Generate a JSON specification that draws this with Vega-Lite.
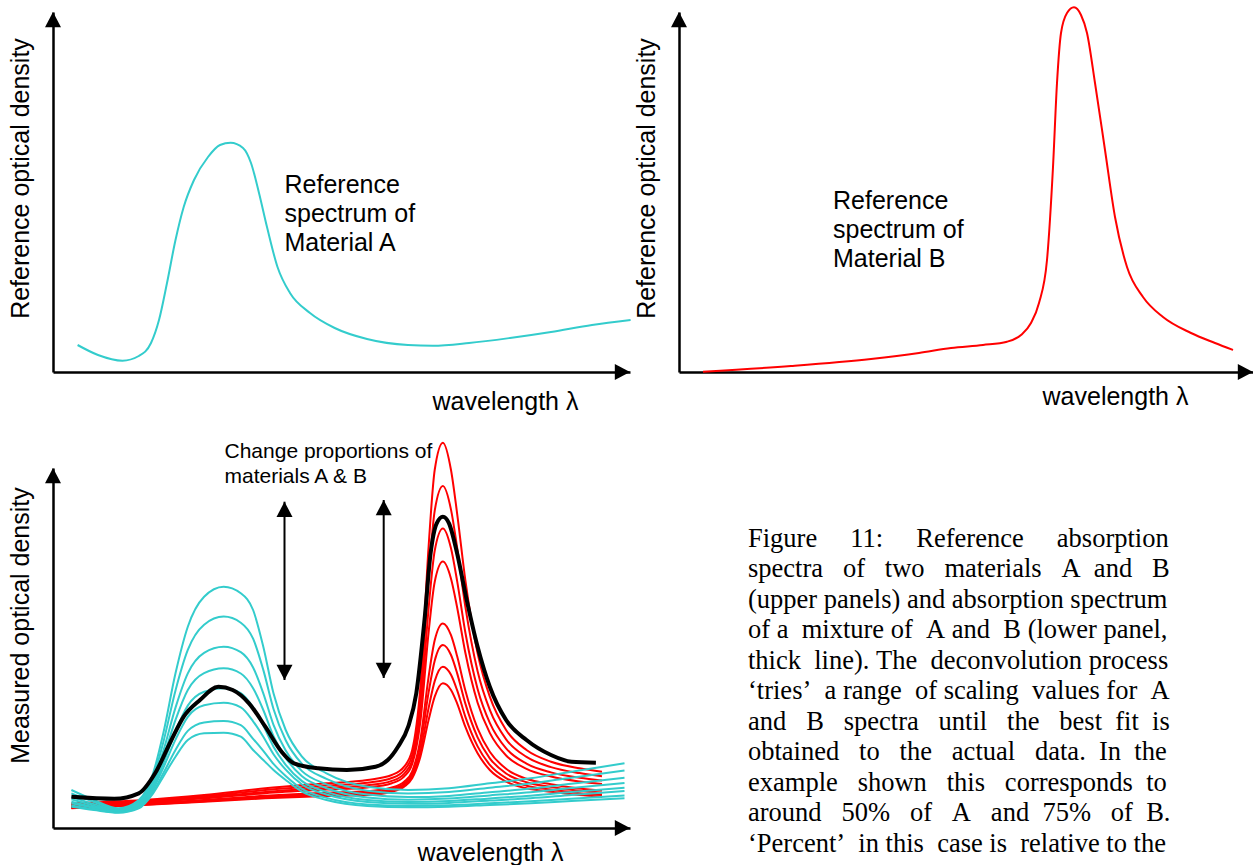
{
  "$schema": "https://vega.github.io/schema/vega-lite/v6.json",
  "padding": {"left": 8, "top": 3, "right": 0, "bottom": 0},
  "background": "white",
  "config": {
    "view": {"stroke": null},
    "font": "Liberation Sans",
    "axis": {
      "domain": true, "domainColor": "black", "domainWidth": 2.5,
      "ticks": false, "labels": false, "grid": false,
      "titleFont": "Liberation Sans", "titleFontSize": 25, "titleFontWeight": "normal", "titleColor": "black"
    }
  },
  "datasets": {
    "specA": [
      {"x":24.6,"y":27},{"x":45,"y":17},{"x":69.4,"y":11.3},{"x":85.8,"y":16},{"x":98,"y":29},{"x":106,"y":52},{"x":114,"y":89},{"x":122.5,"y":132},{"x":130.7,"y":165},{"x":141,"y":192},{"x":155,"y":215},{"x":167,"y":227},{"x":177.6,"y":229.3},{"x":190,"y":224},{"x":198,"y":209},{"x":206,"y":179},{"x":214,"y":145},{"x":224.5,"y":105},{"x":237,"y":79},{"x":257,"y":59},{"x":281.7,"y":44},{"x":314,"y":33},{"x":355,"y":27},{"x":379.7,"y":26.3},{"x":416,"y":29},{"x":457,"y":34},{"x":498,"y":40},{"x":539,"y":47},{"x":577.6,"y":52}
    ],
    "specB": [
      {"x":24,"y":0.3},{"x":112,"y":6},{"x":192,"y":13},{"x":240,"y":19},{"x":272,"y":24},{"x":304,"y":27},{"x":328,"y":30.3},{"x":342,"y":37},{"x":352,"y":49},{"x":360,"y":69},{"x":368,"y":112},{"x":374,"y":205},{"x":378,"y":289},{"x":382,"y":339},{"x":388,"y":359},{"x":395,"y":364.7},{"x":402,"y":357},{"x":408,"y":339},{"x":416,"y":289},{"x":426,"y":222},{"x":436,"y":155},{"x":448,"y":105},{"x":464,"y":75},{"x":484,"y":55},{"x":512,"y":39},{"x":536,"y":29},{"x":554,"y":22}
    ],
    "mixC": [
      {"kind":"A","curve":"A1","x":18.4,"y":38},{"kind":"A","curve":"A1","x":40.9,"y":28},{"kind":"A","curve":"A1","x":65.4,"y":19.7},{"kind":"A","curve":"A1","x":85.8,"y":28},{"kind":"A","curve":"A1","x":100.1,"y":54.7},{"kind":"A","curve":"A1","x":110.3,"y":94.7},{"kind":"A","curve":"A1","x":122.5,"y":154.7},{"kind":"A","curve":"A1","x":134.8,"y":201.3},{"kind":"A","curve":"A1","x":151.1,"y":231.3},{"kind":"A","curve":"A1","x":170.7,"y":241.3},{"kind":"A","curve":"A1","x":187.8,"y":234.7},{"kind":"A","curve":"A1","x":200.1,"y":218},{"kind":"A","curve":"A1","x":210.3,"y":181.3},{"kind":"A","curve":"A1","x":220.5,"y":134.7},{"kind":"A","curve":"A1","x":232.7,"y":98},{"kind":"A","curve":"A1","x":249,"y":71.3},{"kind":"A","curve":"A1","x":273.5,"y":54.7},{"kind":"A","curve":"A1","x":314.3,"y":41.3},{"kind":"A","curve":"A1","x":355.2,"y":38},{"kind":"A","curve":"A1","x":396,"y":39.7},{"kind":"A","curve":"A1","x":436.8,"y":44.7},{"kind":"A","curve":"A1","x":477.6,"y":49.7},{"kind":"A","curve":"A1","x":518.4,"y":56.3},{"kind":"A","curve":"A1","x":571.5,"y":64.7},
      {"kind":"A","curve":"A2","x":18.4,"y":34.6},{"kind":"A","curve":"A2","x":40.9,"y":26},{"kind":"A","curve":"A2","x":65.4,"y":18.8},{"kind":"A","curve":"A2","x":85.8,"y":26.3},{"kind":"A","curve":"A2","x":100.1,"y":50.6},{"kind":"A","curve":"A2","x":110.3,"y":85.8},{"kind":"A","curve":"A2","x":122.5,"y":137.6},{"kind":"A","curve":"A2","x":134.8,"y":178.1},{"kind":"A","curve":"A2","x":151.1,"y":203.3},{"kind":"A","curve":"A2","x":170.7,"y":211.4},{"kind":"A","curve":"A2","x":187.8,"y":205.3},{"kind":"A","curve":"A2","x":200.1,"y":189.3},{"kind":"A","curve":"A2","x":210.3,"y":158.1},{"kind":"A","curve":"A2","x":220.5,"y":119},{"kind":"A","curve":"A2","x":232.7,"y":87.8},{"kind":"A","curve":"A2","x":249,"y":64.1},{"kind":"A","curve":"A2","x":273.5,"y":49.2},{"kind":"A","curve":"A2","x":314.3,"y":37.3},{"kind":"A","curve":"A2","x":355.2,"y":34.5},{"kind":"A","curve":"A2","x":396,"y":35.9},{"kind":"A","curve":"A2","x":436.8,"y":40.3},{"kind":"A","curve":"A2","x":477.6,"y":44.6},{"kind":"A","curve":"A2","x":518.4,"y":50.3},{"kind":"A","curve":"A2","x":571.5,"y":57.5},
      {"kind":"A","curve":"A3","x":18.4,"y":31.1},{"kind":"A","curve":"A3","x":40.9,"y":23.9},{"kind":"A","curve":"A3","x":65.4,"y":17.9},{"kind":"A","curve":"A3","x":85.8,"y":24.6},{"kind":"A","curve":"A3","x":100.1,"y":46.5},{"kind":"A","curve":"A3","x":110.3,"y":76.9},{"kind":"A","curve":"A3","x":122.5,"y":120.4},{"kind":"A","curve":"A3","x":134.8,"y":154.7},{"kind":"A","curve":"A3","x":151.1,"y":175.2},{"kind":"A","curve":"A3","x":170.7,"y":181.3},{"kind":"A","curve":"A3","x":187.8,"y":175.8},{"kind":"A","curve":"A3","x":200.1,"y":160.5},{"kind":"A","curve":"A3","x":210.3,"y":134.7},{"kind":"A","curve":"A3","x":220.5,"y":103.2},{"kind":"A","curve":"A3","x":232.7,"y":77.5},{"kind":"A","curve":"A3","x":249,"y":56.9},{"kind":"A","curve":"A3","x":273.5,"y":43.7},{"kind":"A","curve":"A3","x":314.3,"y":33.4},{"kind":"A","curve":"A3","x":355.2,"y":30.9},{"kind":"A","curve":"A3","x":396,"y":32.1},{"kind":"A","curve":"A3","x":436.8,"y":35.8},{"kind":"A","curve":"A3","x":477.6,"y":39.4},{"kind":"A","curve":"A3","x":518.4,"y":44.3},{"kind":"A","curve":"A3","x":571.5,"y":50.3},
      {"kind":"A","curve":"A4","x":18.4,"y":28.7},{"kind":"A","curve":"A4","x":40.9,"y":22.4},{"kind":"A","curve":"A4","x":65.4,"y":17.2},{"kind":"A","curve":"A4","x":85.8,"y":23.4},{"kind":"A","curve":"A4","x":100.1,"y":43.5},{"kind":"A","curve":"A4","x":110.3,"y":70.4},{"kind":"A","curve":"A4","x":122.5,"y":108.1},{"kind":"A","curve":"A4","x":134.8,"y":138},{"kind":"A","curve":"A4","x":151.1,"y":154.9},{"kind":"A","curve":"A4","x":170.7,"y":159.7},{"kind":"A","curve":"A4","x":187.8,"y":154.5},{"kind":"A","curve":"A4","x":200.1,"y":139.7},{"kind":"A","curve":"A4","x":210.3,"y":118},{"kind":"A","curve":"A4","x":220.5,"y":91.8},{"kind":"A","curve":"A4","x":232.7,"y":70.1},{"kind":"A","curve":"A4","x":249,"y":51.7},{"kind":"A","curve":"A4","x":273.5,"y":39.8},{"kind":"A","curve":"A4","x":314.3,"y":30.5},{"kind":"A","curve":"A4","x":355.2,"y":28.3},{"kind":"A","curve":"A4","x":396,"y":29.4},{"kind":"A","curve":"A4","x":436.8,"y":32.6},{"kind":"A","curve":"A4","x":477.6,"y":35.7},{"kind":"A","curve":"A4","x":518.4,"y":39.9},{"kind":"A","curve":"A4","x":571.5,"y":45.1},
      {"kind":"A","curve":"A5","x":18.4,"y":26.4},{"kind":"A","curve":"A5","x":40.9,"y":21},{"kind":"A","curve":"A5","x":65.4,"y":16.6},{"kind":"A","curve":"A5","x":85.8,"y":22.2},{"kind":"A","curve":"A5","x":100.1,"y":40.8},{"kind":"A","curve":"A5","x":110.3,"y":64.5},{"kind":"A","curve":"A5","x":122.5,"y":96.7},{"kind":"A","curve":"A5","x":134.8,"y":122.4},{"kind":"A","curve":"A5","x":151.1,"y":136.2},{"kind":"A","curve":"A5","x":170.7,"y":139.7},{"kind":"A","curve":"A5","x":187.8,"y":134.9},{"kind":"A","curve":"A5","x":200.1,"y":120.6},{"kind":"A","curve":"A5","x":210.3,"y":102.4},{"kind":"A","curve":"A5","x":220.5,"y":81.3},{"kind":"A","curve":"A5","x":232.7,"y":63.2},{"kind":"A","curve":"A5","x":249,"y":46.9},{"kind":"A","curve":"A5","x":273.5,"y":36.1},{"kind":"A","curve":"A5","x":314.3,"y":27.9},{"kind":"A","curve":"A5","x":355.2,"y":26},{"kind":"A","curve":"A5","x":396,"y":26.9},{"kind":"A","curve":"A5","x":436.8,"y":29.6},{"kind":"A","curve":"A5","x":477.6,"y":32.3},{"kind":"A","curve":"A5","x":518.4,"y":35.9},{"kind":"A","curve":"A5","x":571.5,"y":40.3},
      {"kind":"A","curve":"A6","x":18.4,"y":24.7},{"kind":"A","curve":"A6","x":40.9,"y":20.1},{"kind":"A","curve":"A6","x":65.4,"y":16.2},{"kind":"A","curve":"A6","x":85.8,"y":21.4},{"kind":"A","curve":"A6","x":100.1,"y":38.8},{"kind":"A","curve":"A6","x":110.3,"y":60.2},{"kind":"A","curve":"A6","x":122.5,"y":88.4},{"kind":"A","curve":"A6","x":134.8,"y":111.2},{"kind":"A","curve":"A6","x":151.1,"y":122.7},{"kind":"A","curve":"A6","x":170.7,"y":125.2},{"kind":"A","curve":"A6","x":187.8,"y":120.7},{"kind":"A","curve":"A6","x":200.1,"y":106.7},{"kind":"A","curve":"A6","x":210.3,"y":91.2},{"kind":"A","curve":"A6","x":220.5,"y":73.7},{"kind":"A","curve":"A6","x":232.7,"y":58.3},{"kind":"A","curve":"A6","x":249,"y":43.5},{"kind":"A","curve":"A6","x":273.5,"y":33.5},{"kind":"A","curve":"A6","x":314.3,"y":26},{"kind":"A","curve":"A6","x":355.2,"y":24.2},{"kind":"A","curve":"A6","x":396,"y":25.1},{"kind":"A","curve":"A6","x":436.8,"y":27.4},{"kind":"A","curve":"A6","x":477.6,"y":29.8},{"kind":"A","curve":"A6","x":518.4,"y":33},{"kind":"A","curve":"A6","x":571.5,"y":36.9},
      {"kind":"A","curve":"A7","x":18.4,"y":22.6},{"kind":"A","curve":"A7","x":40.9,"y":18.8},{"kind":"A","curve":"A7","x":65.4,"y":15.7},{"kind":"A","curve":"A7","x":85.8,"y":20.4},{"kind":"A","curve":"A7","x":100.1,"y":36.3},{"kind":"A","curve":"A7","x":110.3,"y":54.8},{"kind":"A","curve":"A7","x":122.5,"y":78},{"kind":"A","curve":"A7","x":134.8,"y":97.1},{"kind":"A","curve":"A7","x":151.1,"y":105.6},{"kind":"A","curve":"A7","x":170.7,"y":107},{"kind":"A","curve":"A7","x":187.8,"y":102.8},{"kind":"A","curve":"A7","x":200.1,"y":89.2},{"kind":"A","curve":"A7","x":210.3,"y":77.1},{"kind":"A","curve":"A7","x":220.5,"y":64.1},{"kind":"A","curve":"A7","x":232.7,"y":52},{"kind":"A","curve":"A7","x":249,"y":39.1},{"kind":"A","curve":"A7","x":273.5,"y":30.1},{"kind":"A","curve":"A7","x":314.3,"y":23.5},{"kind":"A","curve":"A7","x":355.2,"y":22.1},{"kind":"A","curve":"A7","x":396,"y":22.8},{"kind":"A","curve":"A7","x":436.8,"y":24.7},{"kind":"A","curve":"A7","x":477.6,"y":26.7},{"kind":"A","curve":"A7","x":518.4,"y":29.3},{"kind":"A","curve":"A7","x":571.5,"y":32.5},
      {"kind":"A","curve":"A8","x":18.4,"y":21.3},{"kind":"A","curve":"A8","x":40.9,"y":18},{"kind":"A","curve":"A8","x":65.4,"y":15.3},{"kind":"A","curve":"A8","x":85.8,"y":19.7},{"kind":"A","curve":"A8","x":100.1,"y":34.7},{"kind":"A","curve":"A8","x":110.3,"y":51.3},{"kind":"A","curve":"A8","x":122.5,"y":71.3},{"kind":"A","curve":"A8","x":134.8,"y":88},{"kind":"A","curve":"A8","x":151.1,"y":94.7},{"kind":"A","curve":"A8","x":170.7,"y":95.3},{"kind":"A","curve":"A8","x":187.8,"y":91.3},{"kind":"A","curve":"A8","x":200.1,"y":78},{"kind":"A","curve":"A8","x":210.3,"y":68},{"kind":"A","curve":"A8","x":220.5,"y":58},{"kind":"A","curve":"A8","x":232.7,"y":48},{"kind":"A","curve":"A8","x":249,"y":36.3},{"kind":"A","curve":"A8","x":273.5,"y":28},{"kind":"A","curve":"A8","x":314.3,"y":22},{"kind":"A","curve":"A8","x":355.2,"y":20.7},{"kind":"A","curve":"A8","x":396,"y":21.3},{"kind":"A","curve":"A8","x":436.8,"y":23},{"kind":"A","curve":"A8","x":477.6,"y":24.7},{"kind":"A","curve":"A8","x":518.4,"y":27},{"kind":"A","curve":"A8","x":571.5,"y":29.7},
      {"kind":"B","curve":"B1","x":18.4,"y":24.7},{"kind":"B","curve":"B1","x":89.9,"y":28},{"kind":"B","curve":"B1","x":151.1,"y":33},{"kind":"B","curve":"B1","x":212.3,"y":39.7},{"kind":"B","curve":"B1","x":273.5,"y":44.7},{"kind":"B","curve":"B1","x":314.3,"y":48},{"kind":"B","curve":"B1","x":338.8,"y":53},{"kind":"B","curve":"B1","x":351.1,"y":61.3},{"kind":"B","curve":"B1","x":359.2,"y":78},{"kind":"B","curve":"B1","x":367.4,"y":141.3},{"kind":"B","curve":"B1","x":375.6,"y":281.3},{"kind":"B","curve":"B1","x":381.7,"y":358},{"kind":"B","curve":"B1","x":389.9,"y":385.3},{"kind":"B","curve":"B1","x":398,"y":358},{"kind":"B","curve":"B1","x":404.1,"y":314.7},{"kind":"B","curve":"B1","x":412.3,"y":248},{"kind":"B","curve":"B1","x":424.6,"y":174.7},{"kind":"B","curve":"B1","x":436.8,"y":131.3},{"kind":"B","curve":"B1","x":453.1,"y":98},{"kind":"B","curve":"B1","x":473.5,"y":78},{"kind":"B","curve":"B1","x":498,"y":66.3},{"kind":"B","curve":"B1","x":526.6,"y":59.7},{"kind":"B","curve":"B1","x":549,"y":56.3},
      {"kind":"B","curve":"B2","x":18.4,"y":23.8},{"kind":"B","curve":"B2","x":89.9,"y":27.1},{"kind":"B","curve":"B2","x":151.1,"y":31.8},{"kind":"B","curve":"B2","x":212.3,"y":37.9},{"kind":"B","curve":"B2","x":273.5,"y":42.4},{"kind":"B","curve":"B2","x":314.3,"y":45.3},{"kind":"B","curve":"B2","x":338.8,"y":50},{"kind":"B","curve":"B2","x":351.1,"y":57.7},{"kind":"B","curve":"B2","x":359.2,"y":72.9},{"kind":"B","curve":"B2","x":367.4,"y":128.7},{"kind":"B","curve":"B2","x":375.6,"y":250.1},{"kind":"B","curve":"B2","x":381.7,"y":317.2},{"kind":"B","curve":"B2","x":389.9,"y":342},{"kind":"B","curve":"B2","x":398,"y":318.4},{"kind":"B","curve":"B2","x":404.1,"y":280.5},{"kind":"B","curve":"B2","x":412.3,"y":221.6},{"kind":"B","curve":"B2","x":424.6,"y":156.7},{"kind":"B","curve":"B2","x":436.8,"y":118.1},{"kind":"B","curve":"B2","x":453.1,"y":88.7},{"kind":"B","curve":"B2","x":473.5,"y":71.1},{"kind":"B","curve":"B2","x":498,"y":60.9},{"kind":"B","curve":"B2","x":526.6,"y":54.9},{"kind":"B","curve":"B2","x":549,"y":51.8},
      {"kind":"B","curve":"B3","x":18.4,"y":22.9},{"kind":"B","curve":"B3","x":89.9,"y":26.2},{"kind":"B","curve":"B3","x":151.1,"y":30.6},{"kind":"B","curve":"B3","x":212.3,"y":36.1},{"kind":"B","curve":"B3","x":273.5,"y":40.2},{"kind":"B","curve":"B3","x":314.3,"y":42.7},{"kind":"B","curve":"B3","x":338.8,"y":47.1},{"kind":"B","curve":"B3","x":351.1,"y":54.2},{"kind":"B","curve":"B3","x":359.2,"y":67.9},{"kind":"B","curve":"B3","x":367.4,"y":116.4},{"kind":"B","curve":"B3","x":375.6,"y":219.6},{"kind":"B","curve":"B3","x":381.7,"y":277.3},{"kind":"B","curve":"B3","x":389.9,"y":299.6},{"kind":"B","curve":"B3","x":398,"y":279.7},{"kind":"B","curve":"B3","x":404.1,"y":247.1},{"kind":"B","curve":"B3","x":412.3,"y":195.8},{"kind":"B","curve":"B3","x":424.6,"y":139.1},{"kind":"B","curve":"B3","x":436.8,"y":105.2},{"kind":"B","curve":"B3","x":453.1,"y":79.6},{"kind":"B","curve":"B3","x":473.5,"y":64.4},{"kind":"B","curve":"B3","x":498,"y":55.6},{"kind":"B","curve":"B3","x":526.6,"y":50.2},{"kind":"B","curve":"B3","x":549,"y":47.4},
      {"kind":"B","curve":"B4","x":18.4,"y":22.2},{"kind":"B","curve":"B4","x":89.9,"y":25.5},{"kind":"B","curve":"B4","x":151.1,"y":29.7},{"kind":"B","curve":"B4","x":212.3,"y":34.8},{"kind":"B","curve":"B4","x":273.5,"y":38.4},{"kind":"B","curve":"B4","x":314.3,"y":40.6},{"kind":"B","curve":"B4","x":338.8,"y":44.8},{"kind":"B","curve":"B4","x":351.1,"y":51.4},{"kind":"B","curve":"B4","x":359.2,"y":64},{"kind":"B","curve":"B4","x":367.4,"y":106.7},{"kind":"B","curve":"B4","x":375.6,"y":195.7},{"kind":"B","curve":"B4","x":381.7,"y":246},{"kind":"B","curve":"B4","x":389.9,"y":266.4},{"kind":"B","curve":"B4","x":398,"y":249.3},{"kind":"B","curve":"B4","x":404.1,"y":220.8},{"kind":"B","curve":"B4","x":412.3,"y":175.5},{"kind":"B","curve":"B4","x":424.6,"y":125.3},{"kind":"B","curve":"B4","x":436.8,"y":95.1},{"kind":"B","curve":"B4","x":453.1,"y":72.5},{"kind":"B","curve":"B4","x":473.5,"y":59.1},{"kind":"B","curve":"B4","x":498,"y":51.5},{"kind":"B","curve":"B4","x":526.6,"y":46.5},{"kind":"B","curve":"B4","x":549,"y":44},
      {"kind":"B","curve":"B5","x":18.4,"y":20.9},{"kind":"B","curve":"B5","x":89.9,"y":24.2},{"kind":"B","curve":"B5","x":151.1,"y":28},{"kind":"B","curve":"B5","x":212.3,"y":32.2},{"kind":"B","curve":"B5","x":273.5,"y":35.2},{"kind":"B","curve":"B5","x":314.3,"y":36.7},{"kind":"B","curve":"B5","x":338.8,"y":40.5},{"kind":"B","curve":"B5","x":351.1,"y":46.3},{"kind":"B","curve":"B5","x":359.2,"y":56.7},{"kind":"B","curve":"B5","x":367.4,"y":88.7},{"kind":"B","curve":"B5","x":375.6,"y":151.2},{"kind":"B","curve":"B5","x":381.7,"y":187.7},{"kind":"B","curve":"B5","x":389.9,"y":204.6},{"kind":"B","curve":"B5","x":398,"y":192.8},{"kind":"B","curve":"B5","x":404.1,"y":172},{"kind":"B","curve":"B5","x":412.3,"y":137.8},{"kind":"B","curve":"B5","x":424.6,"y":99.6},{"kind":"B","curve":"B5","x":436.8,"y":76.3},{"kind":"B","curve":"B5","x":453.1,"y":59.2},{"kind":"B","curve":"B5","x":473.5,"y":49.2},{"kind":"B","curve":"B5","x":498,"y":43.8},{"kind":"B","curve":"B5","x":526.6,"y":39.6},{"kind":"B","curve":"B5","x":549,"y":37.5},
      {"kind":"B","curve":"B6","x":18.4,"y":20.5},{"kind":"B","curve":"B6","x":89.9,"y":23.8},{"kind":"B","curve":"B6","x":151.1,"y":27.4},{"kind":"B","curve":"B6","x":212.3,"y":31.3},{"kind":"B","curve":"B6","x":273.5,"y":34},{"kind":"B","curve":"B6","x":314.3,"y":35.4},{"kind":"B","curve":"B6","x":338.8,"y":39},{"kind":"B","curve":"B6","x":351.1,"y":44.5},{"kind":"B","curve":"B6","x":359.2,"y":54.2},{"kind":"B","curve":"B6","x":367.4,"y":82.4},{"kind":"B","curve":"B6","x":375.6,"y":135.6},{"kind":"B","curve":"B6","x":381.7,"y":167.3},{"kind":"B","curve":"B6","x":389.9,"y":183},{"kind":"B","curve":"B6","x":398,"y":173},{"kind":"B","curve":"B6","x":404.1,"y":154.9},{"kind":"B","curve":"B6","x":412.3,"y":124.6},{"kind":"B","curve":"B6","x":424.6,"y":90.6},{"kind":"B","curve":"B6","x":436.8,"y":69.7},{"kind":"B","curve":"B6","x":453.1,"y":54.5},{"kind":"B","curve":"B6","x":473.5,"y":45.8},{"kind":"B","curve":"B6","x":498,"y":41.1},{"kind":"B","curve":"B6","x":526.6,"y":37.2},{"kind":"B","curve":"B6","x":549,"y":35.3},
      {"kind":"B","curve":"B7","x":18.4,"y":20},{"kind":"B","curve":"B7","x":89.9,"y":23.3},{"kind":"B","curve":"B7","x":151.1,"y":26.8},{"kind":"B","curve":"B7","x":212.3,"y":30.4},{"kind":"B","curve":"B7","x":273.5,"y":32.9},{"kind":"B","curve":"B7","x":314.3,"y":34},{"kind":"B","curve":"B7","x":338.8,"y":37.5},{"kind":"B","curve":"B7","x":351.1,"y":42.7},{"kind":"B","curve":"B7","x":359.2,"y":51.7},{"kind":"B","curve":"B7","x":367.4,"y":76.1},{"kind":"B","curve":"B7","x":375.6,"y":120},{"kind":"B","curve":"B7","x":381.7,"y":146.9},{"kind":"B","curve":"B7","x":389.9,"y":161.3},{"kind":"B","curve":"B7","x":398,"y":153.2},{"kind":"B","curve":"B7","x":404.1,"y":137.8},{"kind":"B","curve":"B7","x":412.3,"y":111.4},{"kind":"B","curve":"B7","x":424.6,"y":81.6},{"kind":"B","curve":"B7","x":436.8,"y":63.1},{"kind":"B","curve":"B7","x":453.1,"y":49.9},{"kind":"B","curve":"B7","x":473.5,"y":42.3},{"kind":"B","curve":"B7","x":498,"y":38.4},{"kind":"B","curve":"B7","x":526.6,"y":34.8},{"kind":"B","curve":"B7","x":549,"y":33},
      {"kind":"B","curve":"B8","x":18.4,"y":19.7},{"kind":"B","curve":"B8","x":89.9,"y":23},{"kind":"B","curve":"B8","x":151.1,"y":26.3},{"kind":"B","curve":"B8","x":212.3,"y":29.7},{"kind":"B","curve":"B8","x":273.5,"y":32},{"kind":"B","curve":"B8","x":314.3,"y":33},{"kind":"B","curve":"B8","x":338.8,"y":36.3},{"kind":"B","curve":"B8","x":351.1,"y":41.3},{"kind":"B","curve":"B8","x":359.2,"y":49.7},{"kind":"B","curve":"B8","x":367.4,"y":71.3},{"kind":"B","curve":"B8","x":375.6,"y":108},{"kind":"B","curve":"B8","x":381.7,"y":131.3},{"kind":"B","curve":"B8","x":389.9,"y":144.7},{"kind":"B","curve":"B8","x":398,"y":138},{"kind":"B","curve":"B8","x":404.1,"y":124.7},{"kind":"B","curve":"B8","x":412.3,"y":101.3},{"kind":"B","curve":"B8","x":424.6,"y":74.7},{"kind":"B","curve":"B8","x":436.8,"y":58},{"kind":"B","curve":"B8","x":453.1,"y":46.3},{"kind":"B","curve":"B8","x":473.5,"y":39.7},{"kind":"B","curve":"B8","x":498,"y":36.3},{"kind":"B","curve":"B8","x":526.6,"y":33},{"kind":"B","curve":"B8","x":549,"y":31.3},
      {"kind":"mix","curve":"M","x":18.4,"y":31.3},{"kind":"mix","curve":"M","x":61.3,"y":29.3},{"kind":"mix","curve":"M","x":85.8,"y":34.7},{"kind":"mix","curve":"M","x":102.1,"y":54.7},{"kind":"mix","curve":"M","x":118.4,"y":88},{"kind":"mix","curve":"M","x":130.7,"y":111.3},{"kind":"mix","curve":"M","x":147,"y":128},{"kind":"mix","curve":"M","x":165.4,"y":141.3},{"kind":"mix","curve":"M","x":179.7,"y":138},{"kind":"mix","curve":"M","x":196,"y":124.7},{"kind":"mix","curve":"M","x":212.3,"y":101.3},{"kind":"mix","curve":"M","x":228.6,"y":76.3},{"kind":"mix","curve":"M","x":240.9,"y":64.7},{"kind":"mix","curve":"M","x":265.4,"y":59.7},{"kind":"mix","curve":"M","x":293.9,"y":58},{"kind":"mix","curve":"M","x":322.5,"y":61.3},{"kind":"mix","curve":"M","x":334.8,"y":68},{"kind":"mix","curve":"M","x":345,"y":81.3},{"kind":"mix","curve":"M","x":355.2,"y":101.3},{"kind":"mix","curve":"M","x":363.3,"y":134.7},{"kind":"mix","curve":"M","x":371.5,"y":208},{"kind":"mix","curve":"M","x":377.6,"y":274.7},{"kind":"mix","curve":"M","x":383.7,"y":304.7},{"kind":"mix","curve":"M","x":389.9,"y":311.3},{"kind":"mix","curve":"M","x":396,"y":304.7},{"kind":"mix","curve":"M","x":404.1,"y":274.7},{"kind":"mix","curve":"M","x":412.3,"y":234.7},{"kind":"mix","curve":"M","x":424.6,"y":181.3},{"kind":"mix","curve":"M","x":436.8,"y":141.3},{"kind":"mix","curve":"M","x":453.1,"y":108},{"kind":"mix","curve":"M","x":473.5,"y":88},{"kind":"mix","curve":"M","x":498,"y":73},{"kind":"mix","curve":"M","x":518.4,"y":66.3},{"kind":"mix","curve":"M","x":542.9,"y":65.3}
    ],
    "shaftsC": [
      {"arrow": "left", "x": 231.5, "y": 326.3}, {"arrow": "left", "x": 231.5, "y": 148},
      {"arrow": "right", "x": 330.7, "y": 328}, {"arrow": "right", "x": 330.7, "y": 150}
    ],
    "headsA": [{"dir": "up", "x": 0, "y": 360}, {"dir": "right", "x": 577, "y": 0}],
    "headsB": [{"dir": "up", "x": 0, "y": 360}, {"dir": "right", "x": 574, "y": 0}],
    "headsC": [
      {"dir": "up", "x": 0, "y": 360}, {"dir": "right", "x": 577, "y": 0},
      {"dir": "up", "x": 231.5, "y": 326.3}, {"dir": "down", "x": 231.5, "y": 148},
      {"dir": "up", "x": 330.7, "y": 328}, {"dir": "down", "x": 330.7, "y": 150}
    ],
    "noteA": [{"x": 231.5, "y": 179}],
    "noteB": [{"x": 154, "y": 163.5}],
    "noteC": [{"x": 171.5, "y": 369.7}],
    "caption": [{"x": 69, "y": 281.3}]
  },
  "columns": 2,
  "spacing": {"row": 96, "column": 49},
  "bounds": "flush",
  "align": "all",
  "concat": [
    {
      "width": 577, "height": 360,
      "encoding": {
        "x": {"field": "x", "type": "quantitative", "scale": {"domain": [0, 577], "nice": false, "zero": false},
              "axis": {"title": "wavelength λ", "titleX": 452, "titleY": 29, "titleAlign": "center", "titleBaseline": "middle"}},
        "y": {"field": "y", "type": "quantitative", "scale": {"domain": [0, 360], "nice": false, "zero": false},
              "axis": {"title": "Reference optical density", "titleX": -20, "titleY": 166, "titleAngle": -90, "titleAlign": "center", "titleBaseline": "bottom"}}
      },
      "layer": [
        {"data": {"name": "specA"}, "mark": {"type": "line", "color": "#33CCCC", "strokeWidth": 2, "interpolate": "monotone", "clip": false}},
        {"data": {"name": "headsA"}, "mark": {"type": "point", "size": 256, "filled": true, "color": "black", "opacity": 1, "strokeWidth": 0, "clip": false},
         "encoding": {"shape": {"field": "dir", "type": "nominal", "scale": {"domain": ["up", "right", "down"], "range": ["M0,0L1,1.9L-1,1.9Z", "M0,0L-1.9,-1L-1.9,1Z", "M0,0L1,-1.9L-1,-1.9Z"]}, "legend": null}}},
        {"data": {"name": "noteA"}, "mark": {"type": "text", "text": ["Reference", "spectrum of", "Material A"], "align": "left", "baseline": "alphabetic", "fontSize": 25, "lineHeight": 29, "font": "Liberation Sans", "color": "black"}}
      ]
    },
    {
      "width": 574, "height": 360,
      "encoding": {
        "x": {"field": "x", "type": "quantitative", "scale": {"domain": [0, 574], "nice": false, "zero": false},
              "axis": {"title": "wavelength λ", "titleX": 436, "titleY": 24, "titleAlign": "center", "titleBaseline": "middle"}},
        "y": {"field": "y", "type": "quantitative", "scale": {"domain": [0, 360], "nice": false, "zero": false},
              "axis": {"title": "Reference optical density", "titleX": -20, "titleY": 166, "titleAngle": -90, "titleAlign": "center", "titleBaseline": "bottom"}}
      },
      "layer": [
        {"data": {"name": "specB"}, "mark": {"type": "line", "color": "#FF0000", "strokeWidth": 2, "interpolate": "monotone", "clip": false}},
        {"data": {"name": "headsB"}, "mark": {"type": "point", "size": 256, "filled": true, "color": "black", "opacity": 1, "strokeWidth": 0, "clip": false},
         "encoding": {"shape": {"field": "dir", "type": "nominal", "scale": {"domain": ["up", "right", "down"], "range": ["M0,0L1,1.9L-1,1.9Z", "M0,0L-1.9,-1L-1.9,1Z", "M0,0L1,-1.9L-1,-1.9Z"]}, "legend": null}}},
        {"data": {"name": "noteB"}, "mark": {"type": "text", "text": ["Reference", "spectrum of", "Material B"], "align": "left", "baseline": "alphabetic", "fontSize": 25, "lineHeight": 29, "font": "Liberation Sans", "color": "black"}}
      ]
    },
    {
      "width": 577, "height": 360,
      "encoding": {
        "x": {"field": "x", "type": "quantitative", "scale": {"domain": [0, 577], "nice": false, "zero": false},
              "axis": {"title": "wavelength λ", "titleX": 437, "titleY": 24, "titleAlign": "center", "titleBaseline": "middle"}},
        "y": {"field": "y", "type": "quantitative", "scale": {"domain": [0, 360], "nice": false, "zero": false},
              "axis": {"title": "Measured optical density", "titleX": -20, "titleY": 157, "titleAngle": -90, "titleAlign": "center", "titleBaseline": "bottom"}}
      },
      "layer": [
        {"data": {"name": "mixC"}, "transform": [{"filter": "datum.kind === 'B'"}],
         "mark": {"type": "line", "color": "#FF0000", "strokeWidth": 2, "interpolate": "monotone", "clip": false},
         "encoding": {"detail": {"field": "curve", "type": "nominal"}}},
        {"data": {"name": "mixC"}, "transform": [{"filter": "datum.kind === 'A'"}],
         "mark": {"type": "line", "color": "#33CCCC", "strokeWidth": 2, "interpolate": "monotone", "clip": false},
         "encoding": {"detail": {"field": "curve", "type": "nominal"}}},
        {"data": {"name": "mixC"}, "transform": [{"filter": "datum.kind === 'mix'"}],
         "mark": {"type": "line", "color": "black", "strokeWidth": 4, "interpolate": "monotone", "clip": false}},
        {"data": {"name": "shaftsC"}, "mark": {"type": "line", "color": "black", "strokeWidth": 2, "clip": false},
         "encoding": {"detail": {"field": "arrow", "type": "nominal"}}},
        {"data": {"name": "headsC"}, "mark": {"type": "point", "size": 256, "filled": true, "color": "black", "opacity": 1, "strokeWidth": 0, "clip": false},
         "encoding": {"shape": {"field": "dir", "type": "nominal", "scale": {"domain": ["up", "right", "down"], "range": ["M0,0L1,1.9L-1,1.9Z", "M0,0L-1.9,-1L-1.9,1Z", "M0,0L1,-1.9L-1,-1.9Z"]}, "legend": null}}},
        {"data": {"name": "noteC"}, "mark": {"type": "text", "text": ["Change proportions of", "materials A & B"], "align": "left", "baseline": "alphabetic", "fontSize": 21, "lineHeight": 24.3, "font": "Liberation Sans", "color": "black"}}
      ]
    },
    {
      "width": 574, "height": 360,
      "data": {"name": "caption"},
      "mark": {"type": "text", "align": "left", "baseline": "alphabetic", "fontSize": 26.5, "lineHeight": 30.5, "font": "Liberation Serif", "color": "black",
        "text": [
          "Figure\u00a0\u00a0\u00a0\u00a0\u00a011:\u00a0\u00a0\u00a0\u00a0\u00a0Reference\u00a0\u00a0\u00a0\u00a0\u00a0absorption",
          "spectra\u00a0\u00a0\u00a0of\u00a0\u00a0\u00a0two\u00a0\u00a0\u00a0materials\u00a0\u00a0\u00a0A\u00a0\u00a0and\u00a0\u00a0\u00a0B",
          "(upper panels) and absorption spectrum",
          "of\u00a0a\u00a0\u00a0mixture\u00a0of\u00a0\u00a0A\u00a0and\u00a0\u00a0B\u00a0(lower\u00a0panel,",
          "thick\u00a0\u00a0line).\u00a0The\u00a0\u00a0deconvolution\u00a0process",
          "‘tries’\u00a0\u00a0a\u00a0range\u00a0\u00a0of\u00a0scaling\u00a0\u00a0values\u00a0for\u00a0\u00a0A",
          "and\u00a0\u00a0\u00a0B\u00a0\u00a0\u00a0spectra\u00a0\u00a0\u00a0until\u00a0\u00a0\u00a0the\u00a0\u00a0\u00a0best\u00a0\u00a0fit\u00a0\u00a0is",
          "obtained\u00a0\u00a0\u00a0to\u00a0\u00a0\u00a0the\u00a0\u00a0\u00a0actual\u00a0\u00a0\u00a0data.\u00a0\u00a0In\u00a0\u00a0the",
          "example\u00a0\u00a0\u00a0shown\u00a0\u00a0\u00a0this\u00a0\u00a0\u00a0corresponds\u00a0\u00a0to",
          "around\u00a0\u00a0\u00a050%\u00a0\u00a0\u00a0of\u00a0\u00a0\u00a0A\u00a0\u00a0\u00a0and\u00a0\u00a075%\u00a0\u00a0\u00a0of\u00a0\u00a0B.",
          "‘Percent’\u00a0\u00a0in\u00a0this\u00a0\u00a0case\u00a0is\u00a0\u00a0relative\u00a0to\u00a0the"
        ]
      },
      "encoding": {
        "x": {"field": "x", "type": "quantitative", "scale": {"domain": [0, 574], "nice": false, "zero": false}, "axis": null},
        "y": {"field": "y", "type": "quantitative", "scale": {"domain": [0, 360], "nice": false, "zero": false}, "axis": null}
      }
    }
  ]
}
